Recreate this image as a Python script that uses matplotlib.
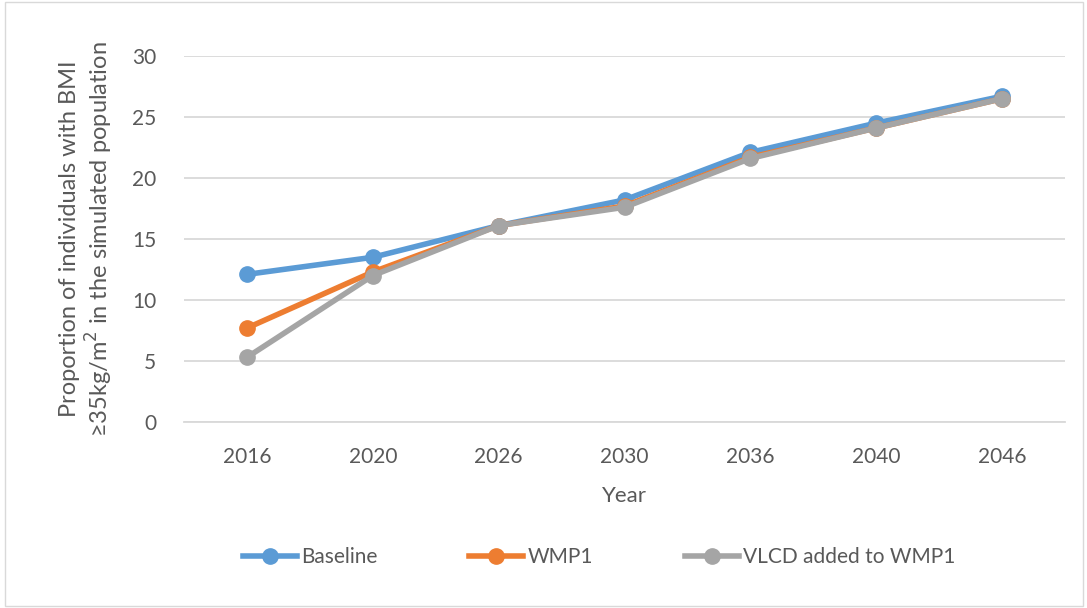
import matplotlib.pyplot as plt
from matplotlib.patches import Rectangle

plt.rcParams['font.family'] = ['Lato', 'DejaVu Sans']

years = ['2016', '2020', '2026', '2030', '2036', '2040', '2046']
baseline = [12.1, 13.5, 16.1, 18.2, 22.1, 24.5, 26.7]
wmp1 = [7.7, 12.3, 16.1, 17.7, 21.7, 24.1, 26.5]
vlcd = [5.3, 12.0, 16.1, 17.6, 21.6, 24.1, 26.5]

fig = plt.figure(figsize=(10.87, 6.08), dpi=100)
ax = fig.add_axes([184 / 1087, 1 - 422 / 608, 881 / 1087, 366 / 608])

x = range(len(years))
ax.plot(x, baseline, color='#5B9BD5', lw=4, marker='o', ms=11, label='Baseline', zorder=3)
ax.plot(x, wmp1, color='#ED7D31', lw=4, marker='o', ms=11, label='WMP1', zorder=4)
ax.plot(x, vlcd, color='#A5A5A5', lw=4, marker='o', ms=11, label='VLCD added to WMP1', zorder=5)

ax.set_xlim(-0.5, len(years) - 0.5)
ax.set_ylim(0, 30)
ax.set_yticks(range(0, 31, 5))
ax.set_xticks(list(x))
ax.set_xticklabels(years)
ax.grid(axis='y', color='#D9D9D9', lw=1.3)
ax.set_axisbelow(True)
for s in ['top', 'right', 'left']:
    ax.spines[s].set_visible(False)
ax.spines['bottom'].set_color('#D9D9D9')
ax.spines['bottom'].set_linewidth(1.3)
ax.tick_params(length=0, labelsize=15, labelcolor='#595959', pad=18)
ax.tick_params(axis='y', pad=20)

ax.set_xlabel('Year', fontsize=16, color='#595959', labelpad=14)
ax.set_ylabel('Proportion of individuals with BMI\n≥35kg/m$^2$ in the simulated population',
              fontsize=17, color='#595959', labelpad=12, linespacing=1.15)

fig.legend(loc='center', bbox_to_anchor=(0.551, 1 - 557 / 608), ncol=3, frameon=False,
           fontsize=15, labelcolor='#595959', handlelength=2.6, handletextpad=0.2,
           columnspacing=4.4)

fig.patches.append(Rectangle((5 / 1087, 2 / 608), 1078 / 1087, 604 / 608, transform=fig.transFigure,
                             fill=False, edgecolor='#D9D9D9', lw=1))

fig.savefig('out.png', dpi=100)
